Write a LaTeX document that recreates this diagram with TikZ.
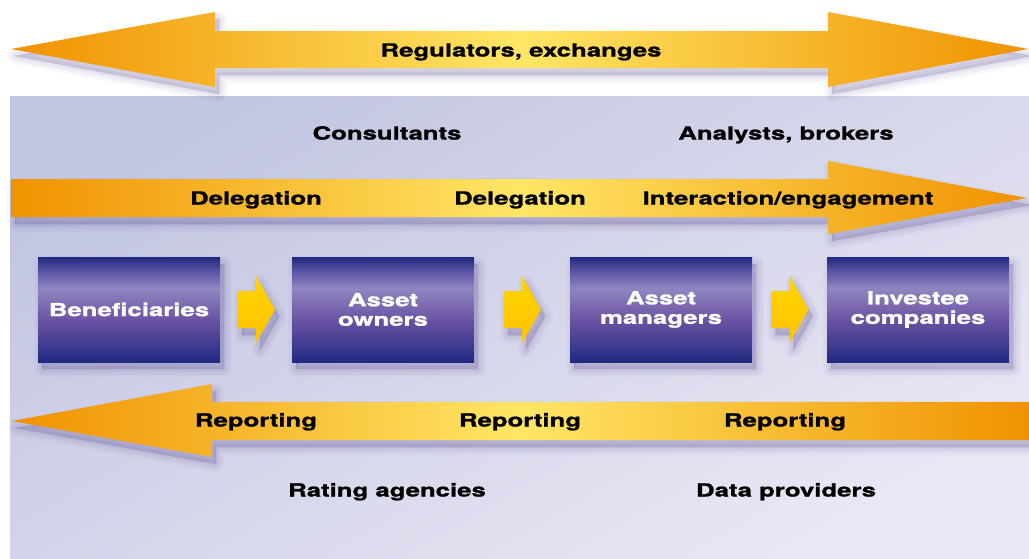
\documentclass[tikz,border=0pt]{standalone}
\usepackage{fontspec}
\newfontfamily\hv[FakeStretch=1.43, FakeBold=1.3]{TeX Gyre Heros}
\usetikzlibrary{calc,shadows}
\definecolor{orD}{HTML}{F09200}
\definecolor{yeL}{HTML}{FFE666}
\definecolor{bgA}{HTML}{C3C6E2}
\definecolor{bgB}{HTML}{E9E7F4}
\definecolor{navy}{HTML}{1E2A80}
\definecolor{shcol}{HTML}{4A3A88}
\definecolor{gA}{HTML}{FFD400}
\definecolor{gB}{HTML}{FFC200}
\definecolor{pA}{HTML}{3B3990}
\definecolor{pB}{HTML}{6B52A2}
\definecolor{pC}{HTML}{8F86C0}
\definecolor{pD}{HTML}{5E55A6}
\pgfdeclareverticalshading{boxshade}{100bp}{color(0bp)=(navy); color(25bp)=(navy); color(32bp)=(pA); color(45bp)=(pB); color(60bp)=(pC); color(68bp)=(pD); color(75bp)=(navy); color(100bp)=(navy)}
\tikzset{
  softshadow/.style={
    general shadow={fill=shcol, draw=shcol, line width=16pt, line join=round, opacity=0.035, shadow xshift=4pt, shadow yshift=-7pt},
    general shadow={fill=shcol, draw=shcol, line width=11pt, line join=round, opacity=0.045, shadow xshift=4pt, shadow yshift=-7pt},
    general shadow={fill=shcol, draw=shcol, line width=6pt, line join=round, opacity=0.06, shadow xshift=4pt, shadow yshift=-7pt},
    general shadow={fill=shcol, draw=shcol, line width=1pt, line join=round, opacity=0.08, shadow xshift=4pt, shadow yshift=-7pt}},
  bigarrow/.style={left color=orD, right color=orD, middle color=yeL, softshadow},
  stagebox/.style={shade, shading=boxshade, minimum width=182pt, minimum height=105pt, inner sep=0pt,
    text=white, align=center, font=\hv\bfseries\fontsize{18}{19.5}\selectfont, softshadow},
  lab/.style={font=\hv\bfseries\fontsize{18}{20}\selectfont, text=black, inner sep=0pt, text height=13pt, text depth=0pt},
  yarrow/.pic={
    \path[top color=gA, bottom color=gB, softshadow]
      (-18,-18.5) -- (0,-18.5) -- (0,-33.5) -- (19,0) -- (0,33.5) -- (0,18.5) -- (-18,18.5) -- cycle;
  }
}
\begin{document}
\begin{tikzpicture}[x=1pt, y=-1pt]
\useasboundingbox (0,0) rectangle (1029,558);
% background panel
\path[top color=bgA, bottom color=bgB, shading angle=30] (10,96) rectangle (1029,558);
% top double arrow
\path[bigarrow] (11,49) -- (215,12) -- (215,31) -- (828,31) -- (828,12) -- (1028,49)
  -- (828,87) -- (828,68) -- (215,68) -- (215,87) -- cycle;
% delegation arrow
\path[bigarrow] (11,179) -- (828,179) -- (828,161) -- (1027,198) -- (828,234) -- (828,217) -- (11,217) -- cycle;
% reporting arrow
\path[bigarrow] (12,421) -- (212,384) -- (212,402) -- (1029,402) -- (1029,440) -- (212,440) -- (212,457) -- cycle;
% boxes
\node[stagebox] (b1) at (129,309.5) {Beneficiaries};
\node[stagebox] (b2) at (383,309.5) {Asset\\owners};
\node[stagebox] (b3) at (661,309.5) {Asset\\managers};
\node[stagebox] (b4) at (918,309.5) {Investee\\companies};
% small arrows between boxes
\path ($(b1.east)!0.5!(b2.west)$) pic {yarrow};
\path ($(b2.east)!0.5!(b3.west)$) pic {yarrow};
\path ($(b3.east)!0.5!(b4.west)$) pic {yarrow};
% labels
\node[lab] (reg) at (521,50) {Regulators, exchanges};
\node[lab] (con) at (387,133) {Consultants};
\node[lab] (ana) at (786,133) {Analysts, brokers};
\node[lab] (del1) at (256,198) {Delegation};
\node[lab] (del2) at (520,198) {Delegation};
\node[lab] (int) at (788,198) {Interaction/engagement};
\node[lab] (rep1) at (256,420) {Reporting};
\node[lab] (rep2) at (520,420) {Reporting};
\node[lab] (rep3) at (785,420) {Reporting};
\node[lab] (rat) at (387,490) {Rating agencies};
\node[lab] (dat) at (786,490) {Data providers};
\end{tikzpicture}
\end{document}
